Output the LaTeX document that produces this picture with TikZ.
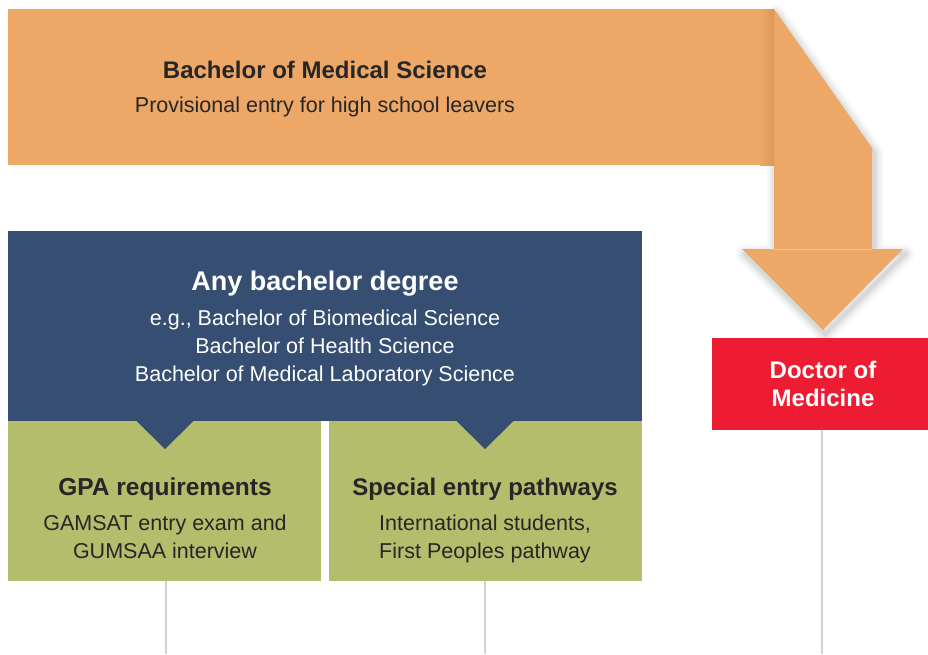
\documentclass[tikz,border=0pt]{standalone}
\usepackage{fontspec}
\setmainfont{Liberation Sans}
\usetikzlibrary{positioning}
\definecolor{orangeband}{HTML}{EDA766}
\definecolor{orangedark}{HTML}{DC9859}
\definecolor{navybox}{HTML}{354E72}
\definecolor{greenbox}{HTML}{B4BD6B}
\definecolor{redbox}{HTML}{EE1C33}
\definecolor{darktext}{HTML}{262626}
\definecolor{greyline}{HTML}{D2D2D2}
\tikzset{
  boxshape/.style={rectangle, inner sep=0pt, outer sep=0pt, draw=none},
  titletext/.style={inner sep=0pt, text height=0.72*#1 pt, text depth=0pt,
    font=\bfseries\fontsize{#1}{#1}\selectfont},
  titletext/.default=24,
  bodytext/.style={inner sep=0pt, text height=0.72*21.5 pt, text depth=0pt,
    font=\fontsize{21.5}{21.5}\selectfont},
  connector/.style={draw=greyline, line width=1.6pt},
}
\begin{document}
\begin{tikzpicture}[x=1pt,y=-1pt]
\useasboundingbox (0,0) rectangle (928,654);
% shadow of folded arrow
\foreach \w/\o in {18/0.03,13/0.035,8/0.045,4/0.05}{
  \draw[line width=\w pt, black, opacity=\o, line join=round]
    (776,14) -- (874,153) -- (874,254) -- (905,254) -- (825,334) -- (745,254) -- (776,254) -- cycle;
}
% orange band with fold
\fill[orangeband] (8,9) -- (774,9) -- (872,148) -- (872,249) -- (903,249)
  -- (823,330) -- (742,249) -- (774,249) -- (774,165) -- (8,165) -- cycle;
\shade[left color=orangeband, right color=orangedark] (760,9) rectangle (774,165);
\draw[orangeband!70!white, line width=0.6pt] (774,249) -- (872,249);
% orange text
\node[titletext, text=darktext] (bms) at (325,70) {Bachelor of Medical Science};
\node[bodytext, text=darktext] (bmssub) at (325,105) {Provisional entry for high school leavers};
% navy box
\node[boxshape, fill=navybox, minimum width=634pt, minimum height=190pt] (any) at (325,326) {};
\node[titletext=27, text=white] (anyt) at (325,281) {Any bachelor degree};
\node[bodytext, text=white] (any1) at (325,318) {e.g., Bachelor of Biomedical Science};
\node[bodytext, text=white] (any2) at (325,346) {Bachelor of Health Science};
\node[bodytext, text=white] (any3) at (325,374) {Bachelor of Medical Laboratory Science};
% green boxes
\node[boxshape, fill=greenbox, minimum width=313pt, minimum height=160pt] (gpa) at (164.5,501) {};
\node[boxshape, fill=greenbox, minimum width=313pt, minimum height=160pt] (spec) at (485.5,501) {};
\fill[navybox] (136,420.5) -- (194,420.5) -- (165,449) -- cycle;
\fill[navybox] (456,420.5) -- (514,420.5) -- (485,449) -- cycle;
\node[titletext=24.5, text=darktext] (gpat) at (165,487) {GPA requirements};
\node[bodytext, text=darktext] (gpa1) at (165,523) {GAMSAT entry exam and};
\node[bodytext, text=darktext] (gpa2) at (165,551) {GUMSAA interview};
\node[titletext=24, text=darktext] (spect) at (485,487) {Special entry pathways};
\node[bodytext, text=darktext] (spec1) at (485,523) {International students,};
\node[bodytext, text=darktext] (spec2) at (485,551) {First Peoples pathway};
% red box
\node[boxshape, fill=redbox, minimum width=216pt, minimum height=92pt] (md) at (820,384) {};
\node[titletext, text=white] (md1) at (823,370) {Doctor of};
\node[titletext, text=white] (md2) at (823,398) {Medicine};
% connectors
\coordinate (gpaend) at (166,654);
\coordinate (specend) at (485,654);
\coordinate (mdend) at (822,654);
\draw[connector] (gpa.south -| gpaend) -- (gpaend);
\draw[connector] (spec.south -| specend) -- (specend);
\draw[connector] (md.south -| mdend) -- (mdend);
\end{tikzpicture}
\end{document}
